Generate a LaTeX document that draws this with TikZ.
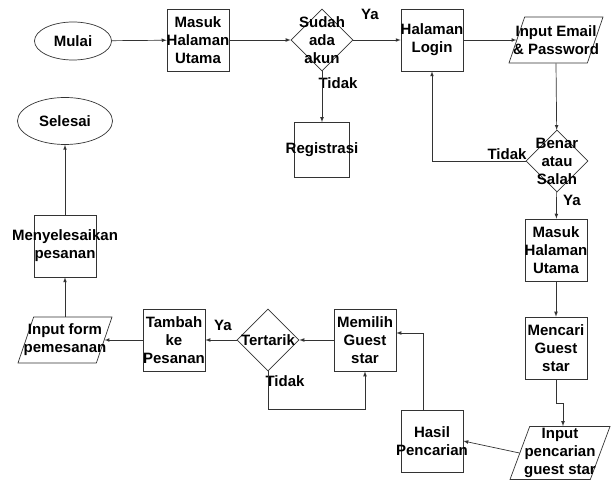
\documentclass[tikz,border=0pt]{standalone}
\usepackage{fontspec}
\setmainfont{Liberation Sans}
\usetikzlibrary{shapes.geometric}
\begin{document}
\begin{tikzpicture}[x=1pt,y=1pt,>=latex,
		every label/.style={font=\bfseries\fontsize{15}{18}\selectfont,align=center,inner sep=0pt},
		every node/.style={inner sep=0pt}]
	\tikzstyle{garis}=[draw=black!80,line width=0.7pt];
	\tikzstyle{alur}=[garis,->];
	\tikzstyle{proses}=[garis,minimum width=62,minimum height=62];
	\tikzstyle{terminal}=[garis,ellipse];
	\tikzstyle{keputusan}=[garis,diamond,minimum width=62,minimum height=62];
	\tikzstyle{masukan}=[garis,trapezium,inner sep=2pt,trapezium stretches=true,trapezium left angle=76,trapezium right angle=104,minimum height=46];
	\tikzstyle{ket}=[font=\bfseries\fontsize{15}{18}\selectfont];
	\useasboundingbox (0,0) rectangle (611,-481);
	% baris atas
	\node[terminal,minimum width=77,minimum height=38,label=center:Mulai] (mulai) at (73,-41) {};
	\node[proses,label={center:{Masuk\\Halaman\\Utama}}] (utama1) at (198,-40) {};
	\node[keputusan,label={center:{Sudah\\ada\\akun}}] (akun) at (322,-40) {};
	\node[proses,label={center:{Halaman\\Login}}] (login) at (432,-40) {};
	\node[masukan,minimum width=94,label={center:{Input Email\\\& Password}}] (email) at (556,-40) {};
	\node[proses,minimum width=55,minimum height=55,label=center:Registrasi] (regis) at (322,-150) {};
	% kolom kanan
	\node[keputusan,label={center:{Benar\\atau\\Salah}}] (benar) at (557,-161) {};
	\node[proses,label={center:{Masuk\\Halaman\\Utama}}] (utama2) at (556,-250) {};
	\node[proses,label={center:{Mencari\\Guest\\star}}] (cari) at (556,-348) {};
	\node[masukan,minimum width=100,minimum height=53,trapezium left angle=72,trapezium right angle=108,label={center:{Input\\pencarian\\guest star}}] (inputcari) at (560,-453) {};
	% baris bawah
	\node[proses,label={center:{Hasil\\Pencarian}}] (hasil) at (432,-441) {};
	\node[proses,label={center:{Memilih\\Guest\\star}}] (pilih) at (365,-340) {};
	\node[keputusan,label=center:Tertarik] (tertarik) at (268,-340) {};
	\node[proses,label={center:{Tambah\\ke\\Pesanan}}] (tambah) at (174,-340) {};
	\node[masukan,minimum width=94,label={center:{Input form\\pemesanan}}] (form) at (65,-340) {};
	\node[proses,label={center:{Menyelesaikan\\pesanan}}] (menyelesaikan) at (65,-246) {};
	\node[terminal,minimum width=95,minimum height=47,label=center:Selesai] (selesai) at (65,-121) {};
	% keterangan
	\node[ket] (ya1) at (370,-14) {Ya};
	\node[ket] (tidak1) at (338,-83) {Tidak};
	\node[ket] (tidak2) at (507,-154) {Tidak};
	\node[ket] (ya2) at (572,-200) {Ya};
	\node[ket] (ya3) at (223,-325) {Ya};
	\node[ket] (tidak3) at (285,-381) {Tidak};
	% panah
	\draw[alur] (mulai) -- (utama1);
	\draw[alur] (utama1) -- (akun);
	\draw[alur] (akun) -- (login);
	\draw[alur] (akun) -- (regis);
	\draw[alur] (login) -- (email.west);
	\draw[alur] (email.south) -- (benar);
	\draw[alur] (benar.west) -| (login.south);
	\draw[alur] (benar) -- (utama2);
	\draw[alur] (utama2) -- (cari);
	\draw[alur] (cari.south) -- ++(0,-24) -| ([xshift=3]inputcari.north);
	\draw[alur] (inputcari.west) -- (hasil.east);
	\draw[alur] ([xshift=-9]hasil.north) |- ([yshift=7]pilih.east);
	\draw[alur] (pilih) -- (tertarik);
	\draw[alur] (tertarik.south) -- ++(0,-38) -| (pilih.south);
	\draw[alur] (tertarik) -- (tambah);
	\draw[alur] (tambah) -- (form.east);
	\draw[alur] (form.north) -- (menyelesaikan);
	\draw[alur] (menyelesaikan) -- (selesai);
\end{tikzpicture}
\end{document}
